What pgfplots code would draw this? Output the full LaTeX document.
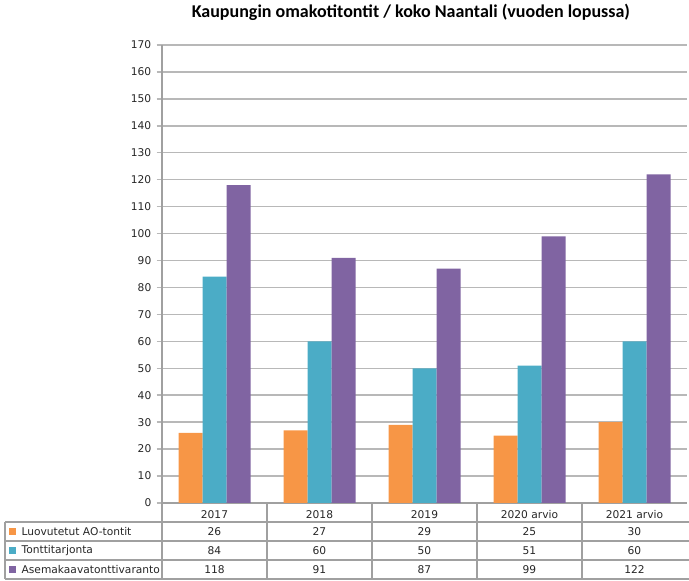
\documentclass[border=0pt]{standalone}
\usepackage{pgfplots}
\usepackage{pgfplotstable}
\pgfplotsset{compat=1.18}
\usepackage{fontspec}
\setmainfont{DejaVu Sans}
\newfontfamily\titlefont{Carlito}
\definecolor{cOrange}{HTML}{F79646}
\definecolor{cTeal}{HTML}{4BACC6}
\definecolor{cPurple}{HTML}{8064A2}
\definecolor{cGrid}{HTML}{B8B8B8}
\definecolor{cLine}{HTML}{A0A0A0}
\definecolor{cText}{HTML}{262626}

\pgfplotstableread{
x luov tontti asema
0 26 84 118
1 27 60 91
2 29 50 87
3 25 51 99
4 30 60 122
}\data

\begin{document}
\begin{tikzpicture}
\useasboundingbox (0,0) rectangle (516.75pt,435.75pt);
\begin{axis}[
  at={(121.5pt,58.5pt)}, anchor=south west,
  width=393.75pt, height=343.5pt, scale only axis,
  xmin=-0.5, xmax=4.5, ymin=0, ymax=170,
  clip=false,
  axis x line*=bottom, axis y line*=left,
  axis line style={draw=cLine, line width=0.8pt},
  ytick={0,10,...,170},
  ymajorgrids, grid style={draw=cGrid, line width=1.1pt},
  xtick=data,
  xticklabels={2017,2018,2019,2020 arvio,2021 arvio},
  x tick style={draw=none},
  y tick style={draw=cGrid, line width=1.1pt},
  tick align=outside, major tick length=4pt,
  xticklabel style={anchor=base, yshift=-7.75pt, font=\fontsize{8}{9}\selectfont, text=cText},
  yticklabel style={font=\fontsize{8}{9}\selectfont, text=cText, xshift=-0.5pt},
  /pgf/number format/assume math mode=true,
  title={\titlefont\bfseries Kaupungin omakotitontit / koko Naantali (vuoden lopussa)},
  title style={at={(0.474,1)}, anchor=center, yshift=18.75pt, font=\fontsize{13.5}{15}\selectfont, text=black},
  nodes near coords style={anchor=center, font=\fontsize{8}{9}\selectfont, text=cText},
]
\addplot[ybar, bar width=18pt, bar shift=-18pt, fill=cOrange, draw=none] table[x=x,y=luov]{\data};
\addplot[ybar, bar width=18pt, bar shift=0pt, fill=cTeal, draw=none] table[x=x,y=tontti]{\data};
\addplot[ybar, bar width=18pt, bar shift=18pt, fill=cPurple, draw=none] table[x=x,y=asema]{\data};
% data table rows
\addplot[draw=none, mark=none, nodes near coords, point meta=explicit] table[x=x, y expr=-10.578, meta=luov]{\data};
\addplot[draw=none, mark=none, nodes near coords, point meta=explicit] table[x=x, y expr=-17.63, meta=tontti]{\data};
\addplot[draw=none, mark=none, nodes near coords, point meta=explicit] table[x=x, y expr=-24.68, meta=asema]{\data};
\end{axis}
% table grid
\begin{scope}[draw=cLine, line width=0.8pt]
\draw (3.75pt,44.25pt) -- (516.75pt,44.25pt);
\draw (3.75pt,30pt) -- (516.75pt,30pt);
\draw (3.75pt,15.75pt) -- (516.75pt,15.75pt);
\draw (3.75pt,1.5pt) -- (516.75pt,1.5pt);
\draw (3.75pt,44.25pt) -- (3.75pt,1.5pt);
\foreach \xx in {121.5,200.25,279,357.75,436.5} {\draw (\xx pt,58.5pt) -- (\xx pt,1.5pt);}
\end{scope}
% legend keys inside the table
\fill[cOrange] (6.75pt,34.5pt) rectangle (12pt,39.75pt);
\fill[cTeal] (6.75pt,20.25pt) rectangle (12pt,25.5pt);
\fill[cPurple] (6.75pt,6pt) rectangle (12pt,11.25pt);
\begin{scope}[every node/.style={anchor=west, inner sep=0pt, font=\fontsize{8}{9}\selectfont, text=cText}]
\node at (16pt,37.125pt) {Luovutetut AO-tontit};
\node at (16pt,22.875pt) {Tonttitarjonta};
\node at (16pt,8.625pt) {Asemakaavatonttivaranto};
\end{scope}
\end{tikzpicture}
\end{document}
